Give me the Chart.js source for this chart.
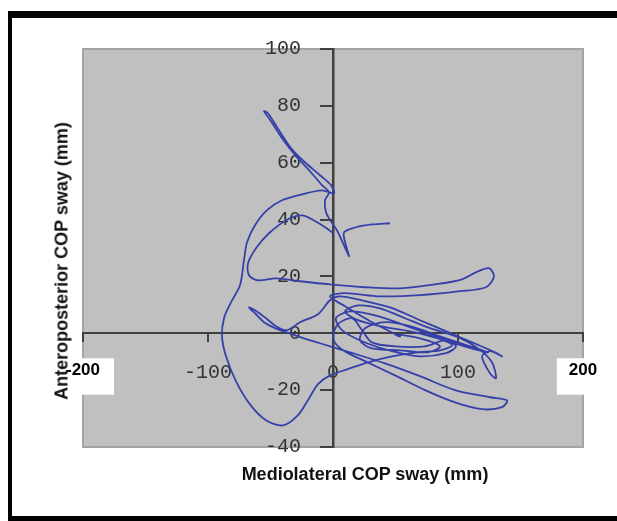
<!DOCTYPE html>
<html><head><meta charset="utf-8">
<script src="https://cdn.jsdelivr.net/npm/chart.js@4.4.1/dist/chart.umd.min.js"></script>
<style>
html,body{margin:0;padding:0;background:#fff;width:617px;height:521px;overflow:hidden}
#frame{position:absolute;left:8px;top:11px;width:700px;height:498px;border-top:7px solid #000;border-left:4px solid #000;border-bottom:5px solid #000}
#c{position:absolute;left:0;top:0}
.t{position:absolute;font-family:"Liberation Sans",Arial,sans-serif;font-weight:bold;font-size:18px;color:#111;white-space:nowrap}
#xt{left:365px;top:474px;transform:translate(-50%,-50%)}
#yt{left:62px;top:261px;transform:translate(-50%,-50%) rotate(-90deg)}
</style></head>
<body>
<div id="frame"></div>
<canvas id="c" width="617" height="521"></canvas>
<div class="t" id="xt">Mediolateral COP sway (mm)</div>
<div class="t" id="yt">Anteroposterior COP sway (mm)</div>
<script>
// Mediolateral (x) and anteroposterior (y) COP sway, mm
const swayML = [45.6,31.2,18.4,8.8,10.4,12.8,8.0,3.2,-1.6,-5.6,-6.4,-3.2,-8.8,-18.4,-29.6,-40.8,-49.6,-55.2,-52.0,-43.2,-32.8,-21.6,-10.4,-1.6,0.8,
 -8.8,-24.8,-40.8,-52.8,-62.4,-68.8,-71.2,-74.4,-81.6,-87.2,-88.8,-85.6,-77.6,-66.4,-53.6,-40.0,-28.0,-19.2,-12.0,-2.4,11.2,28.0,47.2,68.0,
 85.6,95.2,84.0,61.6,37.6,18.4,9.6,20.0,37.6,57.6,77.6,100.0,116.0,127.2,130.4,125.6,119.2,125.6,135.2,129.6,111.2,92.0,69.6,45.6,23.2,5.6,-2.4,-12.0,-26.4,-36.8,-45.6,-53.6,-62.4,-67.2,-61.6,-55.2,-46.4,-30.4,-10.4,13.6,41.6,69.6,97.6,125.6,139.2,135.2,119.2,97.6,73.6,49.6,25.6,8.0,0,4.0,15.2,23.2,31.2,49.6,73.6,
 89.6,98.4,90.4,69.6,47.2,23.2,7.2,2.4,13.6,36.0,68.0,100.0,124.0,
 109.6,85.6,61.6,41.6,25.6,21.6,31.2,53.6,76.0,85.6,69.6,49.6,
 53.6,31.2,9.6,-2.4,9.6,37.6,69.6,101.6,122.4,128.8,124.8,116.0,103.2,81.6,53.6,25.6,-2.4,-26.4,-45.6,-60.0,-67.2,-68.0,-61.6,-51.2,-36.0,-24.8,-15.2,-4.8,0];
const swayAP = [38.7,38.3,37.3,35.5,30.9,27.1,31.7,36.2,39.4,42.6,46.8,49.6,52.1,57.0,62.3,68.6,74.6,78.1,77.4,71.4,64.7,59.8,55.6,52.1,49.2,
 50.3,48.9,46.8,43.3,38.0,32.0,25.7,16.9,10.9,5.3,-1.1,-8.1,-16.9,-25.0,-30.6,-32.4,-28.8,-22.9,-17.9,-14.8,-12.7,-10.2,-8.1,-6.7,
 -6.0,-4.2,-1.8,0.7,2.5,4.9,7.7,9.8,8.8,5.3,1.8,-1.4,-5.3,-10.2,-15.8,-14.1,-8.1,-6.3,-8.1,-6.7,-3.2,0.4,4.6,9.1,11.6,13.0,11.6,6.7,3.9,1.1,2.5,5.3,8.1,9.1,6.7,3.9,1.8,-0.7,-3.5,-6.7,-10.6,-15.1,-20.0,-22.5,-23.6,-26.0,-26.7,-24.3,-20.0,-14.8,-9.8,-6.0,-1.8,3.2,5.3,1.1,-3.2,-4.6,-4.6,
 -2.5,-4.6,-7.0,-8.1,-6.3,-2.8,1.1,5.3,7.7,6.0,1.1,-3.9,-6.7,
 -4.6,-1.1,2.5,3.9,1.8,-2.5,-5.3,-6.0,-6.7,-4.6,-1.8,-0.4,
 -1.1,3.9,9.5,13.0,14.1,13.0,13.4,14.8,16.2,20.0,22.9,21.8,19.0,17.2,15.8,16.2,17.2,18.3,19.3,18.6,20.4,24.6,29.9,35.2,40.1,41.5,39.7,36.9,35.2];
const xTickValues = [-200,-100,0,100,200];
const yTickValues = [-40,-20,0,20,40,60,80,100];

const points = swayML.map((x,i)=>({x:x, y:swayAP[i]}));
const isEdge = c => !!(c && c.tick && (c.tick.value === -200 || c.tick.value === 200));

const plotBg = {
  id:'plotBg',
  beforeDraw(chart){
    const {ctx, chartArea:a} = chart;
    ctx.save();
    ctx.fillStyle = '#c0c0c0';
    ctx.fillRect(a.left, a.top, a.right-a.left, a.bottom-a.top);
    ctx.strokeStyle = '#a4a4a4';
    ctx.lineWidth = 2;
    ctx.strokeRect(a.left, a.top, a.right-a.left, a.bottom-a.top);
    ctx.restore();
  }
};
// y-axis sits at x = 0: put its labels left of the tick marks
const shiftYLabels = {
  id:'shiftYLabels',
  beforeDraw(chart){
    const s = chart.scales.y;
    const off = s.options.grid.tickLength + s.options.ticks.padding;
    s.getLabelItems(chart.chartArea).forEach(it => {
      if (!it._shifted) { it.options.translation[0] -= off; it._shifted = true; }
    });
  }
};

new Chart(document.getElementById('c'), {
  type:'scatter',
  data:{datasets:[{data:points, showLine:true, borderColor:'#3541a8', borderWidth:1.8, pointRadius:0, tension:0.3, fill:false}]},
  options:{
    responsive:false, animation:false, events:[],
    layout:{padding:{left:83,right:34,top:49,bottom:74}},
    plugins:{legend:{display:false}, tooltip:{enabled:false}},
    scales:{
      x:{
        type:'linear', min:-200, max:200, position:{y:0},
        afterFit: s => { s.height = 0; },
        afterBuildTicks: s => { s.ticks = xTickValues.map(v=>({value:v})); },
        grid:{drawOnChartArea:false, drawTicks:true, tickLength:8, color:'#404040', lineWidth:2},
        border:{display:true, color:'#404040', width:2},
        ticks:{
          padding:19,
          font: c => isEdge(c) ? {family:'Liberation Sans', weight:'bold', size:17} : {family:'Liberation Mono', size:20},
          color: c => isEdge(c) ? '#000' : '#333',
          showLabelBackdrop: c => isEdge(c),
          backdropColor:'#ffffff',
          backdropPadding:{left:12,right:14,top:2,bottom:14}
        }
      },
      y:{
        type:'linear', min:-40, max:100, position:{x:0},
        afterFit: s => { s.width = 0; },
        afterBuildTicks: s => { s.ticks = yTickValues.map(v=>({value:v})); },
        grid:{drawOnChartArea:false, drawTicks:true, tickLength:12, color:'#404040', lineWidth:2},
        border:{display:true, color:'#404040', width:2.5},
        ticks:{padding:20, font:{family:'Liberation Mono', size:20}, color:'#333'}
      }
    }
  },
  plugins:[plotBg, shiftYLabels]
});
</script>
</body></html>
